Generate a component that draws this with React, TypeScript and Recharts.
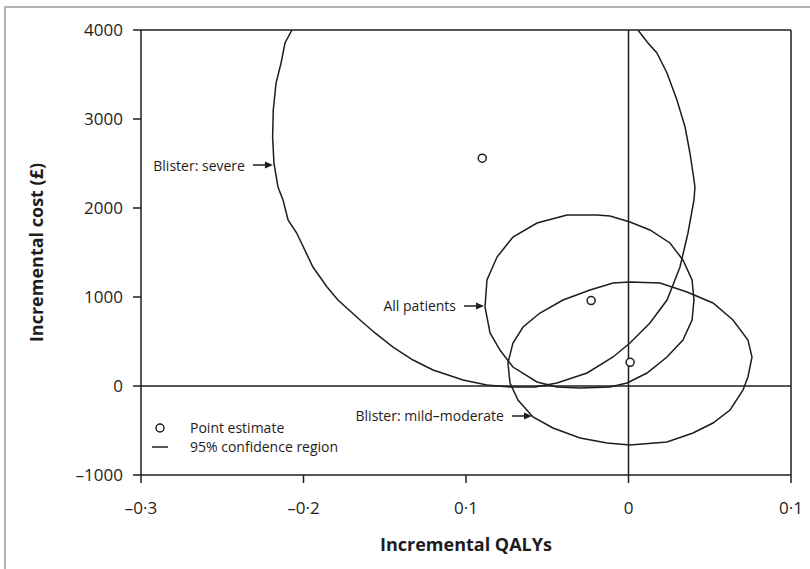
import React from 'react';
import { ScatterChart, Scatter, XAxis, YAxis, ReferenceLine, ReferenceDot, Label } from 'recharts';

// ---- data ----
const xTicks = [-0.3, -0.2, -0.1, 0, 0.1];
const xTickLabels = ['–0·3', '–0·2', '0·1', '0', '0·1'];
const yTicks = [-1000, 0, 1000, 2000, 3000, 4000];
const yTickLabels = ['–1000', '0', '1000', '2000', '3000', '4000'];

// Blister: severe 95% confidence region (clipped at the top of the axis)
const severeQ = [-0.2071, -0.2114, -0.2138, -0.2169, -0.2186, -0.219, -0.2182, -0.2157, -0.2126, -0.2095, -0.2042, -0.1942, -0.1855, -0.1788, -0.1652, -0.156, -0.1449, -0.1326, -0.1203, -0.1018, -0.0871, -0.0729, -0.0575, -0.044, -0.0255, -0.0095, 0.0009, 0.0132, 0.0237, 0.0317, 0.0366, 0.0403, 0.0409, 0.0397, 0.0378, 0.0348, 0.0298, 0.0237, 0.0175, 0.012, 0.0058];
const severeC = [4000, 3854, 3629, 3404, 3101, 2798, 2506, 2236, 2090, 1865, 1719, 1337, 1112, 966, 742, 596, 438, 292, 180, 67, 11, -11, -11, 34, 146, 326, 483, 708, 966, 1337, 1719, 2090, 2236, 2393, 2618, 2910, 3213, 3517, 3742, 3854, 4000];

// All patients 95% confidence region
const allQ = [-0.0378, -0.0563, -0.0711, -0.0809, -0.0871, -0.0883, -0.0852, -0.0791, -0.0711, -0.0563, -0.044, -0.0298, -0.0114, -0.0009, 0.0114, 0.0237, 0.0335, 0.0391, 0.0403, 0.0391, 0.0335, 0.0255, 0.0132, 0.0009, -0.0114, -0.0194, -0.0378];
const allC = [1921, 1831, 1674, 1449, 1191, 888, 596, 404, 213, 45, -11, -22, -11, 34, 146, 326, 517, 742, 966, 1191, 1416, 1607, 1753, 1843, 1910, 1921, 1921];

// Blister: mild–moderate 95% confidence region
const mildQ = [0.0009, 0.0194, 0.036, 0.052, 0.0643, 0.0735, 0.076, 0.0735, 0.0705, 0.0625, 0.052, 0.0397, 0.0237, 0.0009, -0.0132, -0.0298, -0.0465, -0.0588, -0.068, -0.0729, -0.0742, -0.0711, -0.0649, -0.0545, -0.0403, -0.0237, -0.0095, 0.0009];
const mildC = [1169, 1157, 1056, 933, 742, 517, 326, 101, -45, -270, -416, -528, -629, -663, -640, -584, -472, -348, -157, 34, 258, 483, 663, 820, 966, 1079, 1157, 1169];

// Point estimates
const pointQ = [-0.09, -0.023, 0.001];
const pointC = [2560, 960, 266];

// Annotation labels (arrow tip positions)
const annotText = ['Blister: severe', 'All patients', 'Blister: mild–moderate'];
const annotQ = [-0.2188, -0.0889, -0.0594];
const annotC = [2483, 899, -337];

const zip = (qs: number[], cs: number[]) => qs.map((q, i) => ({ q, c: cs[i] }));
const severe = zip(severeQ, severeC);
const allPatients = zip(allQ, allC);
const mild = zip(mildQ, mildC);
const points = zip(pointQ, pointC);

const INK = '#1f1c1d';
const FONT = '"Open Sans", sans-serif';

const Arrowed = (props: any) => {
  const { cx, cy, text } = props;
  if (cx == null || cy == null) return <g />;
  return (
    <g>
      <text x={cx - 28} y={cy} textAnchor="end" dominantBaseline="central" fontSize={14} fill={INK} fontFamily={FONT}>
        {text}
      </text>
      <line x1={cx - 20} y1={cy} x2={cx - 6} y2={cy} stroke={INK} strokeWidth={1.5} />
      <polygon points={`${cx},${cy} ${cx - 8},${cy - 3.5} ${cx - 8},${cy + 3.5}`} fill={INK} />
    </g>
  );
};

const OpenCircle = (props: any) => {
  const { cx, cy } = props;
  if (cx == null || cy == null) return <g />;
  return <circle cx={cx} cy={cy} r={4} fill="#fff" stroke={INK} strokeWidth={1.5} />;
};

const NoShape = () => <g />;

export default function App() {
  return (
    <div style={{ position: 'absolute', left: 0, top: 0, width: 810, height: 569, background: '#fff', fontFamily: FONT, overflow: 'hidden' }}>
      <div style={{ position: 'absolute', left: 4, top: 6, width: 820, height: 580, borderTop: '2px solid #b3b3b3', borderLeft: '2px solid #b3b3b3' }} />
      <ScatterChart width={810} height={569} margin={{ top: 30, right: 19, left: 0, bottom: 0 }} style={{ position: 'absolute', left: 0, top: 0 }}>
        <XAxis
          type="number"
          dataKey="q"
          domain={[-0.3, 0.1]}
          ticks={xTicks}
          allowDataOverflow
          height={94}
          tickSize={8}
          tickMargin={19}
          tickFormatter={(v: number) => xTickLabels[xTicks.findIndex((t) => Math.abs(t - v) < 1e-9)]}
          tick={{ fill: INK, fontSize: 17 }}
          axisLine={{ stroke: INK, strokeWidth: 1.5 }}
          tickLine={{ stroke: INK, strokeWidth: 1.5 }}
        >
          <Label
            content={(p: any) => {
              const vb = p.viewBox || {};
              return (
                <text x={vb.x + vb.width / 2} y={vb.y + 76} textAnchor="middle" fontSize={18} fontWeight="bold" fill={INK} fontFamily={FONT}>
                  Incremental QALYs
                </text>
              );
            }}
          />
        </XAxis>
        <YAxis
          type="number"
          dataKey="c"
          domain={[-1000, 4000]}
          ticks={yTicks}
          allowDataOverflow
          width={141}
          tickSize={8}
          tickMargin={10}
          tickFormatter={(v: number) => yTickLabels[yTicks.indexOf(v)]}
          tick={{ fill: INK, fontSize: 17 }}
          axisLine={{ stroke: INK, strokeWidth: 1.5 }}
          tickLine={{ stroke: INK, strokeWidth: 1.5 }}
        >
          <Label
            content={(p: any) => {
              const vb = p.viewBox || {};
              const x = vb.x + 36;
              const y = vb.y + vb.height / 2;
              return (
                <text x={x} y={y} transform={`rotate(-90 ${x} ${y})`} textAnchor="middle" dominantBaseline="central" fontSize={18} fontWeight="bold" fill={INK} fontFamily={FONT}>
                  Incremental cost (£)
                </text>
              );
            }}
          />
        </YAxis>
        <ReferenceLine y={4000} stroke={INK} strokeWidth={1.5} />
        <ReferenceLine x={0.1} stroke={INK} strokeWidth={1.5} />
        <ReferenceLine x={0} stroke={INK} strokeWidth={1.5} />
        <ReferenceLine y={0} stroke={INK} strokeWidth={1.5} />
        <Scatter data={severe} line={{ stroke: INK, strokeWidth: 1.5 }} shape={NoShape} isAnimationActive={false} />
        <Scatter data={allPatients} line={{ stroke: INK, strokeWidth: 1.5 }} shape={NoShape} isAnimationActive={false} />
        <Scatter data={mild} line={{ stroke: INK, strokeWidth: 1.5 }} shape={NoShape} isAnimationActive={false} />
        <Scatter data={points} shape={OpenCircle} isAnimationActive={false} />
        {annotText.map((t, i) => (
          <ReferenceDot key={t} x={annotQ[i]} y={annotC[i]} r={0} ifOverflow="visible" shape={(p: any) => <Arrowed {...p} text={t} />} />
        ))}
      </ScatterChart>
      <div style={{ position: 'absolute', left: 150, top: 418, fontSize: 14, color: INK, lineHeight: '19px' }}>
        <div style={{ display: 'flex', alignItems: 'center' }}>
          <svg width={30} height={19}><circle cx={10} cy={10} r={4} fill="#fff" stroke={INK} strokeWidth={1.5} /></svg>
          <span style={{ marginLeft: 10 }}>Point estimate</span>
        </div>
        <div style={{ display: 'flex', alignItems: 'center' }}>
          <svg width={30} height={19}><line x1={2} y1={10} x2={18} y2={10} stroke={INK} strokeWidth={1.5} /></svg>
          <span style={{ marginLeft: 10 }}>95% confidence region</span>
        </div>
      </div>
    </div>
  );
}
